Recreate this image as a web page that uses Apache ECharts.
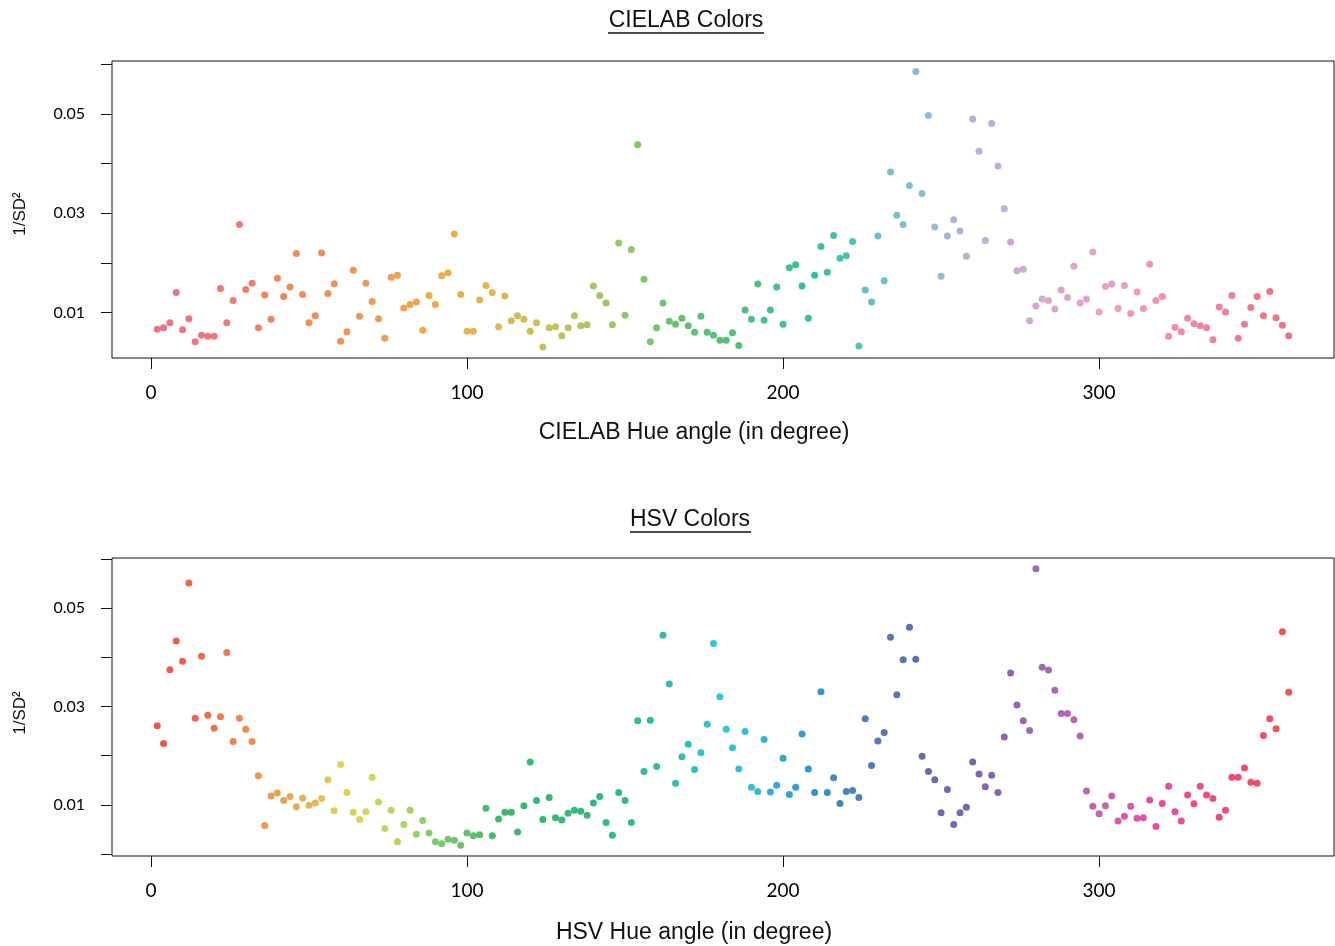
<!DOCTYPE html>
<html>
<head>
<meta charset="utf-8">
<script src="https://cdn.jsdelivr.net/npm/echarts@6/dist/echarts.min.js"></script>
<style>
  html, body { margin: 0; padding: 0; background: #fff; }
  #chart { width: 1335px; height: 946px; }
</style>
</head>
<body>
<div id="chart"></div>
<script>
  // hue angles (degrees), shared by both panels
  var hues = [
    2, 4, 6, 8, 10, 12, 14, 16, 18, 20, 22, 24, 26, 28, 30, 32, 34, 36, 38, 40,
    42, 44, 46, 48, 50, 52, 54, 56, 58, 60, 62, 64, 66, 68, 70, 72, 74, 76, 78, 80,
    82, 84, 86, 88, 90, 92, 94, 96, 98, 100, 102, 104, 106, 108, 110, 112, 114, 116, 118, 120,
    122, 124, 126, 128, 130, 132, 134, 136, 138, 140, 142, 144, 146, 148, 150, 152, 154, 156, 158, 160,
    162, 164, 166, 168, 170, 172, 174, 176, 178, 180, 182, 184, 186, 188, 190, 192, 194, 196, 198, 200,
    202, 204, 206, 208, 210, 212, 214, 216, 218, 220, 222, 224, 226, 228, 230, 232, 234, 236, 238, 240,
    242, 244, 246, 248, 250, 252, 254, 256, 258, 260, 262, 264, 266, 268, 270, 272, 274, 276, 278, 280,
    282, 284, 286, 288, 290, 292, 294, 296, 298, 300, 302, 304, 306, 308, 310, 312, 314, 316, 318, 320,
    322, 324, 326, 328, 330, 332, 334, 336, 338, 340, 342, 344, 346, 348, 350, 352, 354, 356, 358, 360
  ]

  // 1/SD^2, CIELAB panel
  var cielabValues = [
    0.0066, 0.0069, 0.0079, 0.0140, 0.0065, 0.0087, 0.0041, 0.0054, 0.0052, 0.0052,
    0.0148, 0.0079, 0.0124, 0.0277, 0.0146, 0.0159, 0.0069, 0.0135, 0.0086, 0.0169,
    0.0132, 0.0151, 0.0219, 0.0136, 0.0079, 0.0093, 0.0220, 0.0138, 0.0158, 0.0042,
    0.0061, 0.0185, 0.0092, 0.0159, 0.0122, 0.0087, 0.0048, 0.0171, 0.0175, 0.0109,
    0.0116, 0.0121, 0.0064, 0.0134, 0.0116, 0.0174, 0.0180, 0.0258, 0.0136, 0.0062,
    0.0062, 0.0125, 0.0154, 0.0140, 0.0071, 0.0133, 0.0083, 0.0093, 0.0086, 0.0062,
    0.0079, 0.0030, 0.0069, 0.0071, 0.0053, 0.0069, 0.0093, 0.0073, 0.0075, 0.0153,
    0.0134, 0.0119, 0.0075, 0.0240, 0.0094, 0.0227, 0.0438, 0.0167, 0.0041, 0.0069,
    0.0119, 0.0082, 0.0076, 0.0088, 0.0073, 0.0060, 0.0092, 0.0060, 0.0054, 0.0044,
    0.0044, 0.0059, 0.0033, 0.0105, 0.0086, 0.0157, 0.0084, 0.0105, 0.0151, 0.0076,
    0.0190, 0.0196, 0.0153, 0.0088, 0.0175, 0.0233, 0.0181, 0.0255, 0.0209, 0.0214,
    0.0243, 0.0032, 0.0145, 0.0121, 0.0254, 0.0164, 0.0383, 0.0296, 0.0277, 0.0356,
    0.0586, 0.0340, 0.0497, 0.0272, 0.0173, 0.0254, 0.0287, 0.0264, 0.0213, 0.0490,
    0.0425, 0.0245, 0.0481, 0.0395, 0.0309, 0.0242, 0.0184, 0.0187, 0.0083, 0.0113,
    0.0127, 0.0124, 0.0107, 0.0145, 0.0130, 0.0193, 0.0119, 0.0127, 0.0222, 0.0101,
    0.0152, 0.0157, 0.0108, 0.0154, 0.0098, 0.0141, 0.0108, 0.0197, 0.0124, 0.0132,
    0.0052, 0.0070, 0.0061, 0.0088, 0.0077, 0.0073, 0.0069, 0.0045, 0.0111, 0.0101,
    0.0134, 0.0048, 0.0076, 0.0110, 0.0132, 0.0093, 0.0142, 0.0089, 0.0074, 0.0053
  ]

  // 1/SD^2, HSV panel
  var hsvValues = [
    0.0261, 0.0225, 0.0375, 0.0433, 0.0392, 0.0551, 0.0276, 0.0402, 0.0282, 0.0256,
    0.0279, 0.0410, 0.0229, 0.0276, 0.0254, 0.0229, 0.0159, 0.0058, 0.0118, 0.0124,
    0.0109, 0.0117, 0.0096, 0.0114, 0.0099, 0.0104, 0.0113, 0.0151, 0.0088, 0.0182,
    0.0125, 0.0085, 0.0070, 0.0086, 0.0156, 0.0106, 0.0052, 0.0089, 0.0025, 0.0060,
    0.0089, 0.0040, 0.0068, 0.0043, 0.0025, 0.0021, 0.0030, 0.0028, 0.0018, 0.0043,
    0.0037, 0.0039, 0.0093, 0.0037, 0.0071, 0.0085, 0.0085, 0.0045, 0.0098, 0.0187,
    0.0109, 0.0070, 0.0115, 0.0074, 0.0069, 0.0083, 0.0089, 0.0087, 0.0079, 0.0104,
    0.0117, 0.0064, 0.0038, 0.0125, 0.0109, 0.0064, 0.0271, 0.0168, 0.0272, 0.0178,
    0.0445, 0.0346, 0.0144, 0.0198, 0.0223, 0.0172, 0.0206, 0.0264, 0.0428, 0.0320,
    0.0254, 0.0216, 0.0173, 0.0249, 0.0136, 0.0127, 0.0233, 0.0126, 0.0140, 0.0195,
    0.0121, 0.0136, 0.0244, 0.0173, 0.0125, 0.0330, 0.0125, 0.0155, 0.0103, 0.0127,
    0.0129, 0.0115, 0.0275, 0.0180, 0.0230, 0.0247, 0.0441, 0.0324, 0.0395, 0.0461,
    0.0396, 0.0199, 0.0168, 0.0151, 0.0084, 0.0131, 0.0060, 0.0084, 0.0095, 0.0187,
    0.0163, 0.0137, 0.0160, 0.0125, 0.0238, 0.0368, 0.0303, 0.0271, 0.0251, 0.0580,
    0.0380, 0.0374, 0.0333, 0.0286, 0.0286, 0.0273, 0.0240, 0.0128, 0.0097, 0.0082,
    0.0098, 0.0118, 0.0067, 0.0077, 0.0097, 0.0073, 0.0074, 0.0110, 0.0056, 0.0103,
    0.0138, 0.0086, 0.0067, 0.0120, 0.0102, 0.0138, 0.0120, 0.0113, 0.0075, 0.0089,
    0.0156, 0.0156, 0.0175, 0.0146, 0.0144, 0.0241, 0.0275, 0.0255, 0.0452, 0.0329
  ]

  var xTicks = [0, 100, 200, 300]
  var yLabels = [0.01, 0.03, 0.05]

  // colour stops along the hue circle (hue, colour) – point colours are interpolated
  var cielabStops = [
    [0, '#e4506a'], [20, '#e8565e'], [30, '#ec5e46'], [40, '#ee6636'], [60, '#ee7628'],
    [80, '#ee8a20'], [90, '#ee941e'], [100, '#e49e20'], [110, '#d8a628'], [120, '#c4ac30'],
    [130, '#b2b236'], [140, '#94b83a'], [150, '#74bc40'], [160, '#4cb848'], [170, '#38b050'],
    [180, '#2cb058'], [190, '#24b062'], [200, '#14b076'], [210, '#00b08a'], [220, '#1cb49e'],
    [230, '#44b4b4'], [240, '#68acc4'], [250, '#88a4cc'], [260, '#a49cd0'], [270, '#b896cc'],
    [280, '#c892c8'], [290, '#d88cc0'], [300, '#e488b8'], [310, '#ec80b0'], [320, '#ec74a0'],
    [330, '#ec6890'], [340, '#ea5e82'], [350, '#e85672'], [360, '#e4506a']
  ]
  var hsvStops = [
    [0, '#ee2422'], [12, '#ee3a1e'], [24, '#ee5a24'], [34, '#e87828'], [40, '#e08a2a'],
    [50, '#e0a02a'], [56, '#dcb828'], [60, '#d8c82a'], [70, '#c0cc30'], [80, '#98c83a'],
    [90, '#60bc48'], [100, '#40b048'], [110, '#10a848'], [120, '#00a850'], [140, '#00a860'],
    [160, '#00a890'], [170, '#00b0a8'], [180, '#00b8c4'], [190, '#00acd0'], [200, '#0090d0'],
    [210, '#0078c0'], [220, '#1868b0'], [230, '#2a58a8'], [240, '#3a4a9c'], [250, '#48449c'],
    [260, '#5a3e9c'], [270, '#743e9c'], [280, '#8444a0'], [290, '#a0449c'], [300, '#b83c98'],
    [310, '#d03090'], [320, '#e0208a'], [330, '#e82070'], [340, '#ea2055'], [350, '#ec2440'],
    [360, '#ee2a28']
  ]

  function hexToRgb (h) {
    return [parseInt(h.substr(1, 2), 16), parseInt(h.substr(3, 2), 16), parseInt(h.substr(5, 2), 16)]
  }
  function stopColor (stops, hue) {
    for (var i = 0; i < stops.length - 1; i++) {
      var a = stops[i], b = stops[i + 1]
      if (hue >= a[0] && hue <= b[0]) {
        var t = (hue - a[0]) / (b[0] - a[0])
        var ca = hexToRgb(a[1]), cb = hexToRgb(b[1])
        var c = ca.map(function (v, k) { return Math.round(v + (cb[k] - v) * t) })
        return 'rgb(' + c.join(',') + ')'
      }
    }
    return stops[stops.length - 1][1]
  }
  function points (values, stops) {
    return hues.map(function (h, i) {
      return { value: [h, values[i]], itemStyle: { color: stopColor(stops, h) } }
    })
  }

  var tickFont = 'Lato, "Open Sans", sans-serif'
  var textFont = '"Liberation Sans", Arial, Helvetica, sans-serif'

  function xAxisFor (idx) {
    return {
      type: 'value',
      gridIndex: idx,
      position: 'bottom',
      min: -12.32,
      max: 374.32,
      axisLine: { show: false, onZero: false },
      splitLine: { show: false },
      axisTick: { show: true, customValues: xTicks, length: 11, lineStyle: { color: '#111', width: 1 } },
      axisLabel: { customValues: xTicks, margin: 25, color: '#000', fontSize: 19, fontFamily: tickFont }
    }
  }
  function yAxisFor (idx, min, max, ticks) {
    return {
      type: 'value',
      gridIndex: idx,
      position: 'left',
      min: min,
      max: max,
      axisLine: { show: false, onZero: false },
      splitLine: { show: false },
      axisTick: { show: true, customValues: ticks, length: 11, lineStyle: { color: '#111', width: 1 } },
      axisLabel: {
        customValues: yLabels,
        margin: 27,
        color: '#000',
        fontSize: 16,
        fontFamily: tickFont,
        formatter: function (v) { return v.toFixed(2) }
      }
    }
  }
  function label (text, x, y, size, rot) {
    return {
      type: 'text',
      x: x,
      y: y,
      rotation: rot || 0,
      style: {
        text: text,
        fill: '#111',
        font: size + 'px ' + textFont,
        textAlign: 'center',
        textVerticalAlign: 'middle'
      }
    }
  }
  function underline (x1, x2, y) {
    return { type: 'line', shape: { x1: x1, y1: y, x2: x2, y2: y }, style: { stroke: '#111', lineWidth: 1.5 } }
  }

  var chart = echarts.init(document.getElementById('chart'), null, { renderer: 'canvas' })
  var option = {
    animation: false,
    backgroundColor: '#fff',
    grid: [
      { left: 112, top: 61, width: 1222, height: 297, show: true, borderColor: '#111', borderWidth: 1, containLabel: false },
      { left: 112, top: 558, width: 1222, height: 298, show: true, borderColor: '#111', borderWidth: 1, containLabel: false }
    ],
    xAxis: [xAxisFor(0), xAxisFor(1)],
    yAxis: [
      yAxisFor(0, 0.0008, 0.0607, [0.01, 0.02, 0.03, 0.04, 0.05, 0.06]),
      yAxisFor(1, -0.0004, 0.0602, [0, 0.01, 0.02, 0.03, 0.04, 0.05, 0.06])
    ],
    series: [
      {
        type: 'scatter',
        xAxisIndex: 0,
        yAxisIndex: 0,
        symbolSize: 7,
        data: points(cielabValues, cielabStops)
      },
      {
        type: 'scatter',
        xAxisIndex: 1,
        yAxisIndex: 1,
        symbolSize: 7,
        data: points(hsvValues, hsvStops)
      }
    ],
    graphic: [
      label('CIELAB Colors', 686, 21, 23),
      underline(608, 764, 33),
      label('HSV Colors', 690, 520, 23),
      underline(630, 751, 532),
      label('CIELAB Hue angle (in degree)', 694, 433, 23),
      label('HSV Hue angle (in degree)', 694, 933, 23),
      label('1/SD\u00b2', 20, 214, 17, Math.PI / 2),
      label('1/SD\u00b2', 20, 713, 17, Math.PI / 2)
    ]
  }
  chart.setOption(option)
</script>
</body>
</html>
